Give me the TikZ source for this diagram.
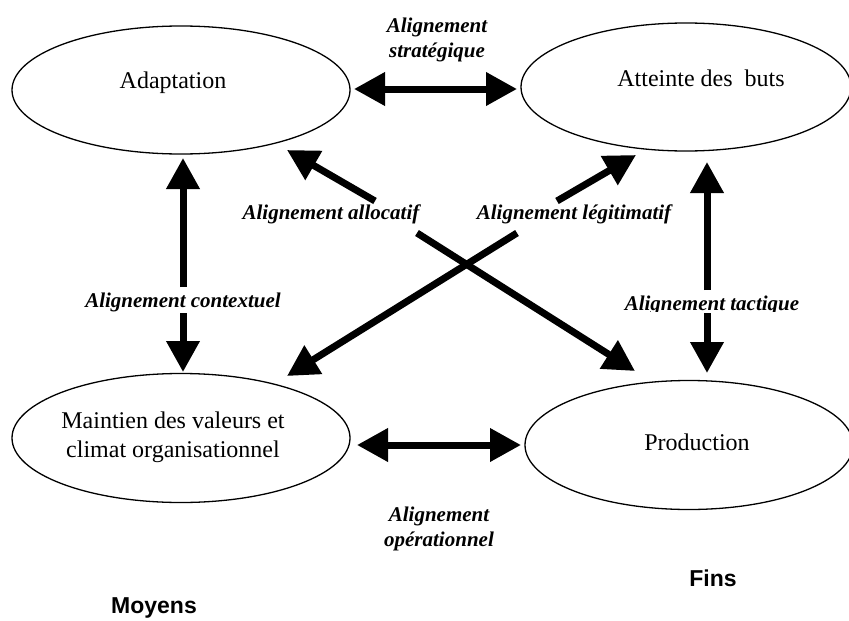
\documentclass[tikz,border=0pt]{standalone}
\usepackage{fontspec}
\setmainfont{Liberation Serif}
\newfontfamily\sansbold{Liberation Sans}
\usetikzlibrary{shapes.geometric,arrows.meta}
\tikzset{
  ell/.style={draw, ellipse, line width=1.3pt, inner sep=0pt},
  boxtxt/.style={font=\fontsize{24}{29}\selectfont, align=center, inner sep=0pt},
  lab/.style={font=\fontsize{21}{25}\selectfont\bfseries\itshape, align=center, inner sep=0pt},
  side/.style={font=\fontsize{23}{27}\selectfont\sansbold\bfseries, inner sep=0pt},
  big/.style={line width=7pt, -{Triangle[length=31pt,width=32pt]}},
  bigboth/.style={line width=7pt, {Triangle[length=31pt,width=32pt]}-{Triangle[length=31pt,width=32pt]}}
}
\begin{document}
\begin{tikzpicture}[x=1pt,y=-1pt]
\useasboundingbox (0,0) rectangle (849,621);
\clip (0,0) rectangle (849,621);
% ellipses
\node[ell, minimum width=338pt, minimum height=128pt] (adapt) at (181,90) {};
\node[ell, minimum width=330pt, minimum height=128pt] (buts) at (686,87) {};
\node[ell, minimum width=338pt, minimum height=129pt] (maint) at (181,438) {};
\node[ell, minimum width=328pt, minimum height=129pt] (prod) at (689,445) {};
% texts
\node[boxtxt] (tadapt) at (173,83) {Adaptation};
\node[boxtxt] (tbuts) at (701,78) {Atteinte des\ \ buts};
\node[boxtxt] (tmaint) at (173,437) {Maintien des valeurs et\\climat organisationnel};
\node[boxtxt] (tprod) at (697,442) {Production};
% arrow end points
\coordinate (s1) at (354,89); \coordinate (s2) at (517,89);
\coordinate (o1) at (357,445); \coordinate (o2) at (521,445);
\coordinate (c1) at (183,287); \coordinate (c2) at (183,158);
\coordinate (c3) at (183,313); \coordinate (c4) at (183,372);
\coordinate (t1) at (707,290); \coordinate (t2) at (707,162);
\coordinate (t3) at (707,313); \coordinate (t4) at (707,373);
\coordinate (a1) at (375,201); \coordinate (a2) at (287,150);
\coordinate (a3) at (417,233); \coordinate (a4) at (635,371);
\coordinate (l1) at (517,233); \coordinate (l2) at (287,376);
\coordinate (l3) at (557,201); \coordinate (l4) at (636,155);
% arrows
\draw[bigboth] (s1) -- (s2);
\draw[bigboth] (o1) -- (o2);
\draw[big] (c1) -- (c2);
\draw[big] (c3) -- (c4);
\draw[big] (t1) -- (t2);
\draw[big] (t3) -- (t4);
\draw[big] (a1) -- (a2);
\draw[big] (a3) -- (a4);
\draw[big] (l1) -- (l2);
\draw[big] (l3) -- (l4);
% labels
\node[lab] (lstrat) at (437,40) {Alignement\\strat\'egique};
\node[lab] (lalloc) at (331,214) {Alignement allocatif};
\node[lab] (llegit) at (574,214) {Alignement l\'egitimatif};
\node[lab] (lcontext) at (183,302) {Alignement contextuel};
\begin{scope}
\clip (600,285) rectangle (830,311);
\node[lab, anchor=base] (ltact) at (712,310) {Alignement tactique};
\end{scope}
\node[lab] (loper) at (439,529) {Alignement\\op\'erationnel};
\node[side] (moyens) at (154,608) {Moyens};
\node[side] (fins) at (713,578) {Fins};
\end{tikzpicture}
\end{document}
